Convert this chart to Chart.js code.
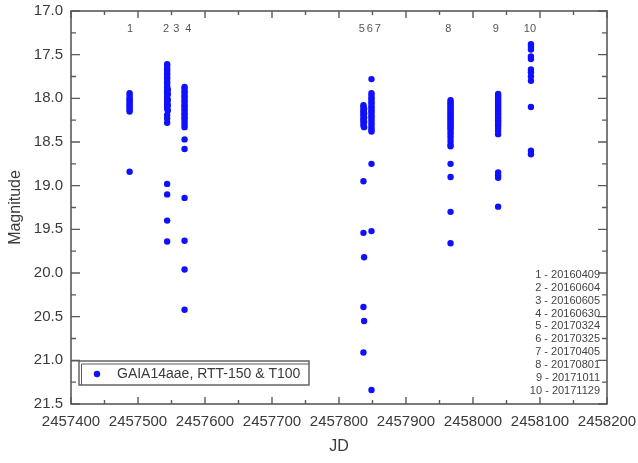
<!DOCTYPE html>
<html>
<head>
<meta charset="utf-8">
<script src="https://cdn.jsdelivr.net/npm/chart.js@4.4.0/dist/chart.umd.min.js"></script>
<style>
  html, body { margin: 0; padding: 0; background: #fff; }
  canvas { display: block; }
</style>
</head>
<body>
<canvas id="chart" width="638" height="463"></canvas>
<script>
// Nights of observation (JD) and their calendar dates
const nightJD = [2457487.5, 2457543.5, 2457544.5, 2457569.5, 2457836.5,
                 2457837.5, 2457848.5, 2457966.5, 2458037.5, 2458086.5];
const nightDates = ['20160409', '20160604', '20160605', '20160630', '20170324',
                    '20170325', '20170405', '20170801', '20171011', '20171129'];

// Magnitudes measured on each night
const mag1 = [17.94, 17.96, 17.99, 18.01, 18.03, 18.05, 18.07, 18.09, 18.11, 18.13, 18.15, 18.84];
const mag2 = [17.61, 17.63, 17.66, 17.68, 17.71, 17.73, 17.76, 17.78, 17.81, 17.83, 17.86, 17.88,
              17.91, 17.93, 17.96, 17.98, 18.00, 18.03, 18.05, 18.07, 18.10, 18.12, 18.19, 18.23,
              18.28, 18.98, 19.10, 19.40, 19.64];
const mag3 = [17.90, 17.95, 18.02, 18.08, 18.14];
const mag4 = [17.87, 17.89, 17.92, 17.94, 17.97, 17.99, 18.02, 18.04, 18.07, 18.09, 18.12, 18.14,
              18.17, 18.19, 18.22, 18.24, 18.27, 18.30, 18.33, 18.47, 18.58, 19.14, 19.63, 19.96, 20.42];
const mag5 = [18.08, 18.10, 18.13, 18.15, 18.18, 18.20, 18.23, 18.25, 18.28, 18.31, 18.95, 19.54,
              20.39, 20.91];
const mag6 = [18.12, 18.17, 18.22, 18.27, 18.33, 19.82, 20.55];
const mag7 = [17.78, 17.94, 17.96, 17.99, 18.01, 18.04, 18.06, 18.09, 18.11, 18.14, 18.16, 18.19,
              18.21, 18.24, 18.27, 18.30, 18.33, 18.36, 18.38, 18.75, 19.52, 21.34];
const mag8 = [18.02, 18.04, 18.06, 18.08, 18.10, 18.12, 18.14, 18.16, 18.18, 18.20, 18.22, 18.24,
              18.26, 18.28, 18.30, 18.32, 18.34, 18.36, 18.39, 18.42, 18.45, 18.49, 18.53, 18.55,
              18.75, 18.90, 19.30, 19.66];
const mag9 = [17.95, 17.97, 17.99, 18.01, 18.03, 18.05, 18.07, 18.09, 18.11, 18.13, 18.15, 18.17,
              18.19, 18.21, 18.23, 18.25, 18.27, 18.29, 18.31, 18.34, 18.37, 18.41, 18.85, 18.88,
              18.91, 19.24];
const mag10 = [17.38, 17.41, 17.44, 17.52, 17.55, 17.67, 17.70, 17.75, 17.80, 18.10, 18.60, 18.64];
const nightMags = [mag1, mag2, mag3, mag4, mag5, mag6, mag7, mag8, mag9, mag10];

// Night numbers written above the columns (spread apart where nights are close)
const nightLabels = ['1', '2', '3', '4', '5', '6', '7', '8', '9', '10'];
const nightLabelJD = [2457488, 2457542, 2457557, 2457575, 2457834, 2457846, 2457858,
                      2457963, 2458034, 2458085];

const xTicks = [2457400, 2457500, 2457600, 2457700, 2457800, 2457900, 2458000, 2458100, 2458200];
const yTicks = [17.0, 17.5, 18.0, 18.5, 19.0, 19.5, 20.0, 20.5, 21.0, 21.5];

const seriesName = 'GAIA14aae, RTT-150 & T100';

const points = [];
nightMags.forEach((mags, i) => {
  mags.forEach(m => points.push({ x: nightJD[i], y: m }));
});

const FONT = '"Liberation Sans", Arial, Helvetica, sans-serif';
const FRAME = '#5a5a5a';
const TEXT = '#3a3a3a';

// frame with inward ticks, night numbers, legend box and date list
const decorations = {
  id: 'decorations',
  afterDraw(chart) {
    const { ctx, chartArea: a, scales: { x, y } } = chart;
    ctx.save();
    ctx.strokeStyle = FRAME;
    ctx.lineWidth = 1.6;
    ctx.strokeRect(a.left, a.top, a.right - a.left, a.bottom - a.top);

    ctx.lineWidth = 1.4;
    ctx.beginPath();
    for (let v = xTicks[0]; v <= xTicks[xTicks.length - 1]; v += 50) {
      const px = x.getPixelForValue(v);
      const len = (v % 100 === 0) ? 7 : 4;
      ctx.moveTo(px, a.bottom); ctx.lineTo(px, a.bottom - len);
      ctx.moveTo(px, a.top); ctx.lineTo(px, a.top + len);
    }
    for (let v = yTicks[0]; v <= yTicks[yTicks.length - 1] + 0.01; v += 0.25) {
      const py = y.getPixelForValue(v);
      const major = Math.abs(v * 2 - Math.round(v * 2)) < 1e-6;
      const len = major ? 9 : 5;
      ctx.moveTo(a.left, py); ctx.lineTo(a.left + len, py);
      ctx.moveTo(a.right, py); ctx.lineTo(a.right - len, py);
    }
    ctx.stroke();

    // night numbers
    ctx.fillStyle = '#555';
    ctx.font = '11px ' + FONT;
    ctx.textAlign = 'center';
    ctx.textBaseline = 'middle';
    nightLabels.forEach((t, i) => {
      ctx.fillText(t, x.getPixelForValue(nightLabelJD[i]), a.top + 18);
    });

    // dates list
    ctx.textAlign = 'right';
    ctx.font = '11px ' + FONT;
    ctx.fillStyle = '#444';
    nightDates.forEach((d, i) => {
      ctx.fillText((i + 1) + ' - ' + d, a.right - 7, 275 + i * 12.86);
    });

    // legend
    const lx = 79, ly = 361, lw = 230, lh = 24;
    ctx.fillStyle = '#fff';
    ctx.fillRect(lx, ly, lw, lh);
    ctx.strokeStyle = FRAME;
    ctx.lineWidth = 1.4;
    ctx.strokeRect(lx, ly, lw, lh);
    ctx.lineWidth = 1;
    ctx.beginPath();
    ctx.moveTo(a.left, ly); ctx.lineTo(lx, ly);
    ctx.moveTo(lx + 2.5, ly + lh); ctx.lineTo(lx + 2.5, ly + 3);
    ctx.lineTo(lx + lw, ly + 3);
    ctx.stroke();
    ctx.fillStyle = '#1010ff';
    ctx.beginPath();
    ctx.arc(lx + 18, ly + 13, 3.2, 0, Math.PI * 2);
    ctx.fill();
    ctx.fillStyle = TEXT;
    ctx.font = '14px ' + FONT;
    ctx.textAlign = 'left';
    ctx.fillText(seriesName, lx + 38, ly + 13);
    ctx.restore();
  }
};

const config = {
  type: 'scatter',
  data: {
    datasets: [{
      label: seriesName,
      data: points,
      backgroundColor: '#1010ff',
      borderColor: '#1010ff',
      borderWidth: 0,
      pointRadius: 3.2,
      pointHoverRadius: 3.2
    }]
  },
  options: {
    responsive: false,
    animation: false,
    devicePixelRatio: 1,
    layout: { padding: { left: 0, top: 11, right: 31, bottom: 0 } },
    plugins: {
      legend: { display: false },
      tooltip: { enabled: false }
    },
    scales: {
      x: {
        type: 'linear',
        min: 2457400,
        max: 2458200,
        afterFit(scale) {
          scale.height = 59;
          scale.paddingLeft = 0;
          scale.paddingRight = 0;
        },
        afterBuildTicks(scale) { scale.ticks = xTicks.map(v => ({ value: v })); },
        grid: { display: false, drawTicks: false },
        border: { display: false },
        ticks: {
          padding: 9,
          color: TEXT,
          font: { family: FONT, size: 15 },
          maxRotation: 0,
          autoSkip: false,
          callback: v => String(v)
        },
        title: {
          display: true,
          text: 'JD',
          color: TEXT,
          font: { family: FONT, size: 16 },
          padding: { top: 0, bottom: 7 }
        }
      },
      y: {
        type: 'linear',
        reverse: true,
        min: 17,
        max: 21.5,
        afterFit(scale) {
          scale.width = 71;
          scale.paddingTop = 0;
          scale.paddingBottom = 0;
        },
        afterBuildTicks(scale) { scale.ticks = yTicks.map(v => ({ value: v })); },
        grid: { display: false, drawTicks: false },
        border: { display: false },
        ticks: {
          padding: 8,
          color: TEXT,
          font: { family: FONT, size: 15 },
          autoSkip: false,
          callback: v => v.toFixed(1)
        },
        title: {
          display: true,
          text: 'Magnitude',
          color: TEXT,
          font: { family: FONT, size: 16 },
          padding: { top: 6, bottom: 0 }
        }
      }
    }
  },
  plugins: [decorations]
};

const chart = new Chart(document.getElementById('chart').getContext('2d'), config);
</script>
</body>
</html>
